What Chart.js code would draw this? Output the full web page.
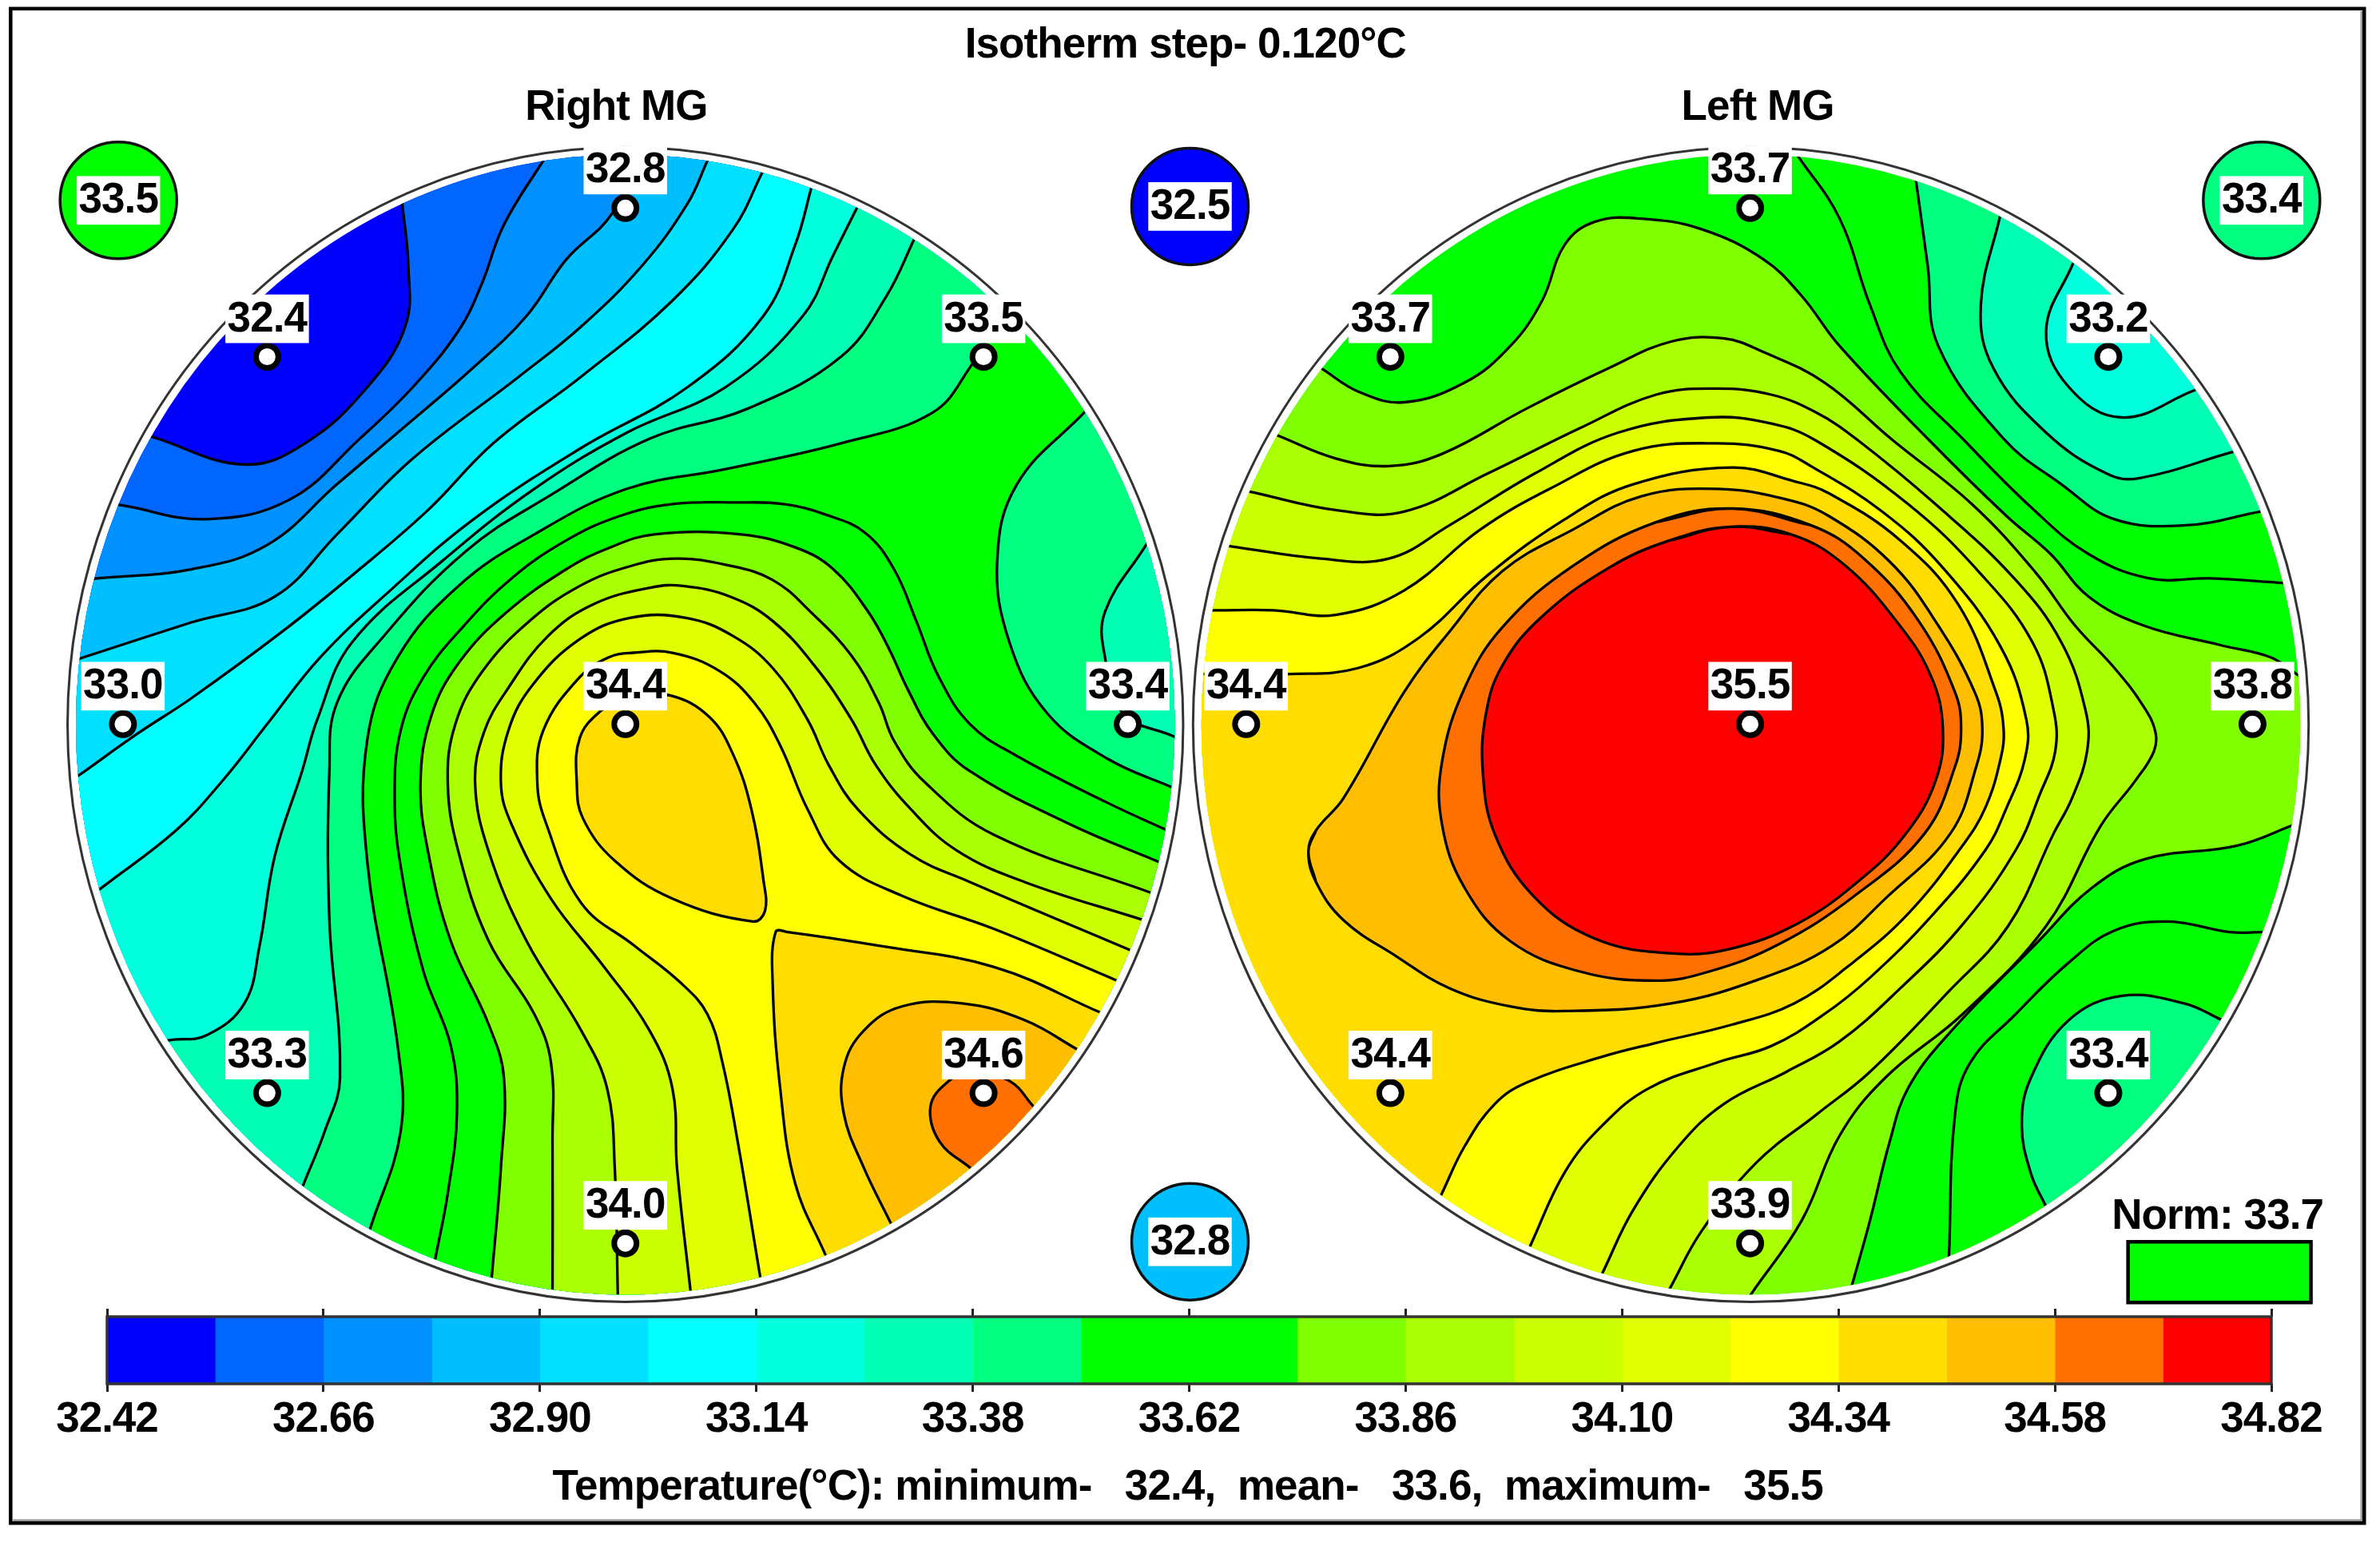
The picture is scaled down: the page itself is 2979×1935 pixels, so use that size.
<!DOCTYPE html>
<html><head><meta charset="utf-8">
<style>html,body{margin:0;padding:0;background:#fff;width:2979px;height:1935px;overflow:hidden}
canvas{position:absolute;left:0;top:0;display:block;filter:blur(0.7px)}</style>
<script src="https://cdn.jsdelivr.net/npm/chart.js@4"></script></head>
<body><canvas id="map" width="2979" height="1935"></canvas><canvas id="bar" width="2979" height="1935"></canvas>
<script>
// ---- temperature scale ----
const levels=[32.42,32.54,32.66,32.78,32.90,33.02,33.14,33.26,33.38,33.50,33.62,33.74,33.86,33.98,34.10,34.22,34.34,34.46,34.58,34.70,34.82];
const scaleColors=['#0000ff','#0066ff','#0090ff','#00bfff','#00e0ff','#00ffff','#00ffdc','#00ffb4','#00ff80','#00ff00','#00ff00','#80ff00','#aaff00','#ccff00','#e0ff00','#ffff00','#ffdd00','#ffbe00','#ff7000','#ff0000'];
const tickValues=[32.42,32.66,32.90,33.14,33.38,33.62,33.86,34.10,34.34,34.58,34.82];
// ---- electrodes ----
const rightX=[412,176,648,81,743,412,176,648,412];
const rightY=[137,235,235,477,477,477,720,720,819];
const rightVals=['32.8','32.4','33.5','33.0','33.4','34.4','33.3','34.6','34.0'];
const leftX=[1153,916,1389,821,1484,1153,916,1389,1153];
const leftY=[137,235,235,477,477,477,720,720,819];
const leftVals=['33.7','33.7','33.2','34.4','33.8','35.5','34.4','33.4','33.9'];
// ---- outer reference spots ----
const spotX=[78,784,784,1490];
const spotY=[132,136,818,132];
const spotVals=['33.5','32.5','32.8','33.4'];
const spotColors=['#00ff00','#0000ff','#00bfff','#00ff80'];
// ---- right MG isotherms ----
const L1=[[265,134],[269,175],[267,215],[242,255],[201,292],[161,306],[101,288]];
const L2=[[359,104],[332,148],[317,188],[302,218],[272,255],[237,289],[191,329],[136,342],[81,333]];
const L3=[[418,104],[403,141],[373,171],[347,208],[312,242],[262,285],[222,319],[176,359],[126,375],[64,381]];
const L4=[[466,106],[453,134],[423,175],[383,215],[342,248],[272,302],[222,352],[181,393],[126,410],[55,433]];
const L5=[[503,112],[483,151],[443,198],[383,248],[325,292],[282,336],[232,379],[186,416],[126,460],[91,483],[53,510]];
const L6=[[535,122],[524,161],[503,208],[453,255],[383,295],[312,342],[257,389],[211,433],[176,477],[146,515],[116,547],[68,584]];
const L7=[[565,136],[549,168],[529,208],[478,255],[413,285],[352,322],[292,369],[232,423],[209,474],[199,508],[181,564],[171,623],[161,661],[136,682],[113,685]];
const L8=[[603,156],[584,195],[554,235],[493,269],[428,289],[363,326],[307,363],[252,420],[222,463],[217,508],[217,606],[224,710],[214,745],[200,780]];
const L9=[[660,205],[639,242],[614,272],[554,292],[478,309],[413,322],[352,352],[302,386],[262,433],[242,487],[242,568],[262,689],[264,745],[244,809]];
const L10=[[287,828],[295,786],[301,734],[297,689],[279,640],[264,571],[260,525],[264,481],[279,446],[304,414],[337,381],[373,356],[408,340],[443,332],[485,331],[516,332],[544,339],[570,351],[589,375],[604,410],[618,445],[639,477],[670,498],[730,529],[769,547]];
const L11=[[324,841],[330,769],[332,710],[322,675],[297,620],[282,561],[277,516],[284,472],[302,437],[333,404],[373,375],[401,361],[431,352],[488,352],[525,361],[549,375],[572,403],[586,428],[598,454],[615,484],[639,508],[705,543],[764,568]];
const L12=[[364,850],[364,752],[363,700],[352,668],[322,620],[302,561],[295,516],[300,477],[318,442],[349,409],[382,386],[415,373],[445,368],[478,372],[509,382],[535,404],[561,432],[579,463],[589,488],[609,515],[655,550],[758,588]];
const L13=[[407,852],[405,769],[400,717],[383,679],[347,620],[322,561],[313,516],[319,482],[335,453],[361,419],[391,398],[429,387],[450,386],[481,393],[509,409],[537,439],[561,474],[577,504],[600,533],[630,560],[675,581],[753,606]];
const L14=[[455,851],[446,769],[443,717],[428,679],[398,637],[363,592],[337,543],[330,516],[335,481],[351,451],[382,421],[415,407],[452,407],[483,419],[509,440],[532,474],[546,504],[565,533],[600,563],[639,581],[745,626]];
const L15=[[501,842],[486,752],[476,700],[466,668],[448,647],[418,623],[383,595],[360,543],[354,516],[358,481],[382,446],[401,433],[417,430],[443,430],[474,442],[497,463],[514,491],[532,533],[553,567],[594,590],[655,612],[736,646]];
const L16a=[[413,458],[441,458],[467,472],[483,497],[495,533],[503,580],[504,600],[496,607],[443,592],[405,567],[384,539],[380,516],[382,486],[396,468],[413,458]];
const L16b=[[544,827],[524,780],[514,717],[509,647],[511,614],[519,614],[579,623],[655,637],[725,667]];
const L17=[[711,692],[675,672],[634,661],[594,663],[569,679],[556,703],[556,734],[569,769],[587,806]];
const L18=[[681,729],[665,712],[640,706],[624,713],[613,729],[619,752],[640,770]];
const P1=[[715,271],[670,319],[657,369],[665,423],[690,470],[730,500],[773,519]];
const P2=[[755,359],[728,403],[728,433],[740,470],[773,485]];
// ---- left MG isotherms ----
const M1=[[871,243],[895,258],[925,265],[965,252],[995,228],[1016,198],[1031,161],[1051,146],[1081,144],[1121,151],[1162,171],[1187,195],[1212,228],[1271,290],[1322,340],[1351,365],[1376,393],[1412,412],[1463,425],[1496,433],[1513,444]];
const M1b=[[1512,543],[1474,557],[1413,566],[1378,585],[1343,620],[1283,682],[1257,717],[1245,752],[1232,804],[1220,847]];
const M2=[[842,287],[880,302],[915,307],[950,299],[1006,269],[1061,242],[1101,225],[1136,223],[1162,232],[1202,252],[1247,290],[1299,332],[1341,377],[1367,412],[1393,440],[1412,465],[1420,482],[1419,495],[1407,514],[1384,544],[1348,610],[1293,668],[1242,710],[1212,748],[1187,804],[1154,852]];
const M3=[[824,324],[880,336],[925,337],[980,312],[1041,282],[1091,260],[1131,256],[1167,260],[1197,272],[1224,290],[1275,332],[1327,381],[1358,423],[1374,468],[1375,495],[1365,526],[1353,549],[1323,610],[1283,654],[1232,706],[1197,734],[1157,766],[1121,811],[1100,849]];
const M4=[[812,360],[870,368],[915,368],[955,346],[1011,312],[1066,285],[1126,275],[1167,279],[1196,290],[1257,332],[1304,377],[1339,423],[1353,468],[1354,495],[1344,523],[1328,560],[1293,609],[1252,651],[1212,686],[1177,706],[1136,727],[1106,755],[1076,797],[1056,838]];
const M5=[[802,402],[839,402],[880,405],[925,389],[975,349],[1021,322],[1076,297],[1131,292],[1172,297],[1193,307],[1240,337],[1280,374],[1318,426],[1335,474],[1334,500],[1322,532],[1308,560],[1272,604],[1232,644],[1202,668],[1167,689],[1131,700],[1086,717],[1056,741],[1031,772],[1008,821]];
const M6=[[795,444],[849,444],[895,440],[935,420],[980,379],[1031,342],[1076,319],[1141,308],[1182,317],[1205,325],[1252,356],[1290,398],[1315,456],[1320,480],[1318,500],[1308,532],[1293,557],[1257,602],[1217,637],[1182,661],[1141,675],[1091,687],[1056,696],[1006,713],[985,727],[965,755],[950,786]];
const M7=[[862,561],[867,547],[885,526],[925,456],[955,416],[990,376],[1036,349],[1081,327],[1131,322],[1177,329],[1205,340],[1245,370],[1275,409],[1301,456],[1306,480],[1302,505],[1285,549],[1242,592],[1207,623],[1162,644],[1101,661],[1031,666],[995,663],[955,651],[920,630],[885,606],[867,581],[862,561]];
const M8=[[1141,335],[1193,346],[1228,368],[1264,409],[1288,456],[1292,480],[1288,505],[1268,549],[1222,590],[1172,622],[1126,640],[1091,646],[1041,640],[995,620],[965,585],[950,543],[950,502],[965,453],[990,413],[1036,373],[1091,344],[1141,335]];
const M9=[[1140,347],[1180,352],[1215,372],[1250,410],[1272,445],[1280,480],[1275,515],[1255,550],[1225,580],[1185,608],[1140,625],[1100,628],[1050,618],[1010,590],[985,550],[977,510],[979,470],[990,438],[1016,406],[1060,374],[1100,356],[1140,347]];
const La=[[1184,102],[1212,144],[1232,201],[1252,245],[1294,290],[1339,335],[1376,365],[1416,381],[1456,381],[1505,384]];
const Lb=[[1262,117],[1270,175],[1277,228],[1320,289],[1358,319],[1393,342],[1440,346],[1489,337]];
const Lc=[[1318,141],[1305,201],[1313,242],[1348,285],[1388,312],[1409,315],[1470,298]];
const Ld=[[1366,173],[1348,218],[1363,255],[1398,275],[1446,257]];
const Ni=[[1491,614],[1469,614],[1428,607],[1393,613],[1363,634],[1328,668],[1298,700],[1288,734],[1284,828]];
const Is=[[1464,672],[1439,661],[1398,656],[1363,672],[1338,710],[1332,741],[1338,773],[1348,795]];

const W=1568,H=1018.4;
const RP={cx:412,cy:477.3,rx:362,ry:375.5,orx:367.5,ory:380.3};
const LP={cx:1153.5,cy:477.3,rx:362,ry:375.5,orx:367.5,ory:380.3};
const c=scaleColors;
const last=a=>a[a.length-1];
const coldR=a=>[[0,last(a)[1]],[0,H],[790,H],[790,0],[a[0][0],0]];
const hotR=a=>[[790,last(a)[1]],[790,H],[a[0][0],H]];
const revR=a=>[[last(a)[0],H],[790,H],[790,a[0][1]]];
const hotL=a=>[[last(a)[0],H],[780,H],[780,a[0][1]]];
const revLR=a=>[[last(a)[0],H],[W,H],[W,a[0][1]]];
const topRight=a=>[[W,last(a)[1]],[W,0],[a[0][0],0]];
// paint order: first painted first; [line, closing corners, fill colour, panel, closed]
const paint=[
 [L1,coldR(L1),c[1],RP],[L2,coldR(L2),c[2],RP],[L3,coldR(L3),c[3],RP],[L4,coldR(L4),c[4],RP],[L5,coldR(L5),c[5],RP],
 [L6,coldR(L6),c[6],RP],[L7,coldR(L7),c[7],RP],[L8,coldR(L8),c[8],RP],[L9,coldR(L9),c[9],RP],
 [L10,hotR(L10),c[10],RP],[L11,hotR(L11),c[11],RP],[L12,hotR(L12),c[12],RP],[L13,hotR(L13),c[13],RP],[L14,hotR(L14),c[14],RP],[L15,hotR(L15),c[15],RP],
 [L16a,null,c[16],RP,true],[L16b,hotR(L16b),c[16],RP],[L17,revR(L17),c[17],RP],[L18,revR(L18),c[18],RP],
 [P1,[[790,519],[790,271]],c[8],RP],[P2,[[790,485],[790,359]],c[7],RP],
 [La,null,null,LP],[Lb,topRight(Lb),c[8],LP],[Lc,topRight(Lc),c[7],LP],[Ld,topRight(Ld),c[6],LP],
 [M1,[[W,444],[W,H],[780,H],[780,243]],c[11],LP],[M1b,revLR(M1b),c[9],LP],[Ni,null,null,LP],[Is,revLR(Is),c[8],LP],
 [M2,hotL(M2),c[12],LP],[M3,hotL(M3),c[13],LP],[M4,hotL(M4),c[14],LP],[M5,hotL(M5),c[15],LP],[M6,hotL(M6),c[16],LP],
 [M7,null,c[17],LP,true],[M8,null,c[18],LP,true],[M9,null,c[19],LP,true]
];
function extend(a){
  const out=(p,q)=>{const dx=p[0]-q[0],dy=p[1]-q[1],d=Math.hypot(dx,dy)||1;return [p[0]+dx/d*14,p[1]+dy/d*14];};
  return [out(a[0],a[1]),...a,out(a[a.length-1],a[a.length-2])];
}
const wrap=a=>[a[a.length-2],...a,a[1]];
const isoSets=paint.map((p,i)=>({
  type:'scatter',showLine:true,tension:0.4,pointRadius:0,borderColor:'#000',borderWidth:3.3,fill:false,order:1000-i,
  data:(p[4]?wrap(p[0]):extend(p[0])).map(q=>({x:q[0],y:q[1]})),
  iso:{closure:p[1],color:p[2],panel:p[3]}
}));
const toPts=(xs,ys)=>xs.map((x,i)=>({x,y:ys[i]}));
const electrodeSet={type:'scatter',order:1,data:toPts(rightX.concat(leftX),rightY.concat(leftY)),pointRadius:14,pointBorderWidth:7,pointBackgroundColor:'#fff',pointBorderColor:'#000',showLine:false};
const spotSet={type:'scatter',order:2,data:toPts(spotX,spotY),pointRadius:73,pointBorderWidth:3.5,pointBackgroundColor:spotColors,pointBorderColor:'#111',showLine:false};

const FONT='"Liberation Sans",Arial,sans-serif';
const mapPlugin={
  id:'mapPlugin',
  beforeDatasetsDraw(ch){
    const x=ch.scales.x,y=ch.scales.y,g=ch.ctx,k=x.getPixelForValue(1)-x.getPixelForValue(0),ky=y.getPixelForValue(1)-y.getPixelForValue(0);
    g.save();
    g.fillStyle='#fff';g.fillRect(0,0,ch.width,ch.height);
    g.lineWidth=4.5;g.strokeStyle='#000';
    const fx0=x.getPixelForValue(7),fy0=y.getPixelForValue(5.7),fx1=x.getPixelForValue(1557.6),fy1=y.getPixelForValue(1003.3);
    g.strokeRect(fx0,fy0,fx1-fx0,fy1-fy0);
    g.strokeStyle='#999';g.lineWidth=2.5;g.beginPath();g.moveTo(fx0+3,fy1-3.5);g.lineTo(fx1-3.5,fy1-3.5);g.lineTo(fx1-3.5,fy0+3);g.stroke();
    [[RP,c[0]],[LP,c[9]]].forEach(([P,col])=>{g.beginPath();g.ellipse(x.getPixelForValue(P.cx),y.getPixelForValue(P.cy),P.rx*k,P.ry*ky,0,0,7);g.fillStyle=col;g.fill();});
    g.restore();
  },
  beforeDatasetDraw(ch,a){
    const ds=ch.data.datasets[a.index]; if(!ds.iso) return;
    const x=ch.scales.x,y=ch.scales.y,g=ch.ctx,P=ds.iso.panel,k=x.getPixelForValue(1)-x.getPixelForValue(0),ky=y.getPixelForValue(1)-y.getPixelForValue(0);
    g.save();
    g.beginPath();g.ellipse(x.getPixelForValue(P.cx),y.getPixelForValue(P.cy),P.rx*k,P.ry*ky,0,0,7);g.clip();
    if(ds.iso.color){
      const line=a.meta.dataset;
      line.updateControlPoints(ch.chartArea,'x');
      g.beginPath();line.path(g);
      (ds.iso.closure||[]).forEach(q=>g.lineTo(x.getPixelForValue(q[0]),y.getPixelForValue(q[1])));
      g.closePath();g.fillStyle=ds.iso.color;g.fill();
    }
  },
  afterDatasetDraw(ch,a){ if(ch.data.datasets[a.index].iso) ch.ctx.restore(); },
  afterDatasetsDraw(ch){
    const x=ch.scales.x,y=ch.scales.y,g=ch.ctx,k=x.getPixelForValue(1)-x.getPixelForValue(0),ky=y.getPixelForValue(1)-y.getPixelForValue(0);
    g.save();
    [RP,LP].forEach(P=>{g.beginPath();g.ellipse(x.getPixelForValue(P.cx),y.getPixelForValue(P.cy),P.orx*k,P.ory*ky,0,0,7);g.strokeStyle='#333';g.lineWidth=3;g.stroke();});
    const text=(s,tx,ty)=>{g.font='bold 53px '+FONT;g.letterSpacing='-0.9px';g.textAlign='center';g.textBaseline='middle';g.fillStyle='#000';g.fillText(s,x.getPixelForValue(tx),y.getPixelForValue(ty));};
    const tag=(s,tx,ty)=>{g.fillStyle='#fff';g.fillRect(x.getPixelForValue(tx-27.5),y.getPixelForValue(ty-16),55*k,32*ky);text(s,tx,ty+0.5);};
    rightX.forEach((v,i)=>tag(rightVals[i],v,rightY[i]-25));
    leftX.forEach((v,i)=>tag(leftVals[i],v,leftY[i]-25));
    spotX.forEach((v,i)=>tag(spotVals[i],v,spotY[i]));
    text('Isotherm step- 0.120°C',781,30);
    text('Right MG',406,71);
    text('Left MG',1158,71);
    text('Temperature(°C): minimum-   32.4,  mean-   33.6,  maximum-   35.5',782.5,980);
    text('Norm: 33.7',1461,802);
    g.fillStyle=c[9];g.strokeStyle='#000';g.lineWidth=4.5;
    const sx=x.getPixelForValue(1402),sy=y.getPixelForValue(818),sw=x.getPixelForValue(1522.5)-sx,sh=y.getPixelForValue(858)-sy;
    g.fillRect(sx,sy,sw,sh);g.strokeRect(sx,sy,sw,sh);
    g.restore();
  }
};
new Chart(document.getElementById('map'),{
  data:{datasets:[electrodeSet,spotSet,...isoSets]},
  options:{responsive:false,animation:false,devicePixelRatio:1,layout:{padding:0,autoPadding:false},
    events:[],
    plugins:{legend:{display:false},tooltip:{enabled:false},title:{display:false}},
    scales:{x:{type:'linear',min:0,max:W,display:false},y:{type:'linear',min:0,max:H,reverse:true,display:false}}},
  plugins:[mapPlugin]
});
// ---- colour bar ----
const barSets=scaleColors.map((col,i)=>({label:levels[i].toFixed(2),data:[[levels[i],levels[i+1]]],backgroundColor:col,borderWidth:0,grouped:false,barPercentage:1,categoryPercentage:1}));
const setTicks=s=>{s.ticks=tickValues.map(v=>({value:v}));};
const framePlugin={id:'framePlugin',
  beforeDraw(ch){ch.ctx.letterSpacing='-1px';},
  afterDatasetsDraw(ch){const a=ch.chartArea,g=ch.ctx;g.save();g.strokeStyle='#333';g.lineWidth=3.5;g.strokeRect(a.left,a.top,a.right-a.left,a.bottom-a.top);g.restore();}};
new Chart(document.getElementById('bar'),{
  type:'bar',
  data:{labels:['Temperature'],datasets:barSets},
  options:{indexAxis:'y',responsive:false,animation:false,devicePixelRatio:1,events:[],
    layout:{padding:{left:134,right:136,top:1638,bottom:113}},
    plugins:{legend:{display:false},tooltip:{enabled:false}},
    scales:{
      y:{display:false},
      x:{type:'linear',position:'bottom',min:32.42,max:34.82,afterBuildTicks:setTicks,afterFit:s=>{s.height=90;},
        grid:{drawOnChartArea:false,tickLength:10,tickWidth:3,tickColor:'#222',drawTicks:true},border:{display:false},
        ticks:{autoSkip:false,maxRotation:0,padding:4,color:'#000',font:{family:'"Liberation Sans"',size:53,weight:'bold'},callback:v=>v.toFixed(2)}},
      xTop:{type:'linear',axis:'x',position:'top',min:32.42,max:34.82,afterBuildTicks:setTicks,afterFit:s=>{s.height=10;},
        grid:{drawOnChartArea:false,tickLength:10,tickWidth:3,tickColor:'#222'},border:{display:false},ticks:{display:false}}
    }},
  plugins:[framePlugin]
});
</script></body></html>
